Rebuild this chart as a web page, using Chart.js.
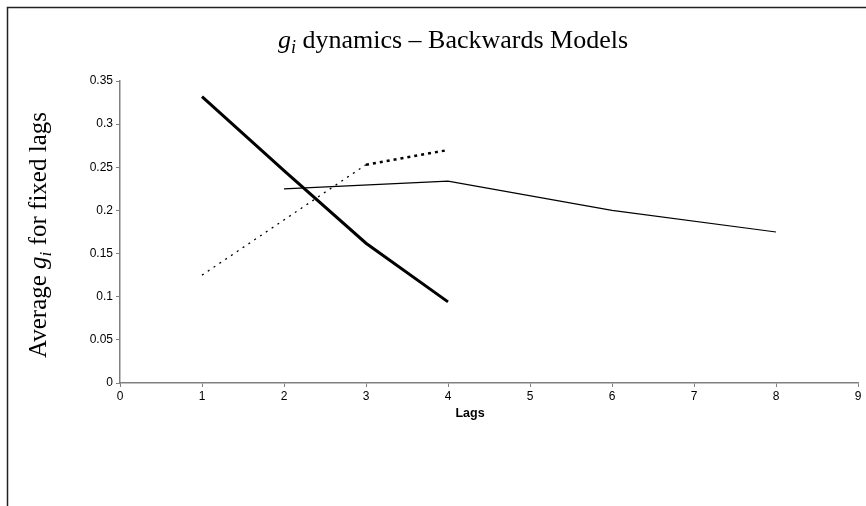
<!DOCTYPE html>
<html>
<head>
<meta charset="utf-8">
<script src="https://cdn.jsdelivr.net/npm/chart.js@4.4.0/dist/chart.umd.min.js"></script>
<style>
  html, body { margin: 0; background: #fff; }
  #wrap { width: 866px; height: 506px; }
</style>
</head>
<body>
<div id="wrap"><canvas id="chart"></canvas></div>
<script>
// lags on the x axis, average g_i per series
const xTickValues = [0, 1, 2, 3, 4, 5, 6, 7, 8, 9];
const yTickLabels = ['0', '0.05', '0.1', '0.15', '0.2', '0.25', '0.3', '0.35'];

const boldLags = [1, 2, 3, 4];
const boldValues = [0.332, 0.246, 0.162, 0.094];

const dottedLags = [1, 2, 3, 4];
const dottedValues = [0.125, 0.189, 0.253, 0.270];

const thinLags = [2, 4, 6, 8];
const thinValues = [0.225, 0.234, 0.200, 0.175];

const toPoints = (xs, ys) => xs.map((x, i) => ({ x: x, y: ys[i] }));

// draws a line of text made of runs (italic, subscript) centred on x
function drawRuns(ctx, runs, x, y, size) {
  const fontFor = r => (r.italic ? 'italic ' : '') + (r.sub ? size * 0.7 : size) + 'px "Liberation Serif", "Times New Roman", serif';
  let total = 0;
  runs.forEach(r => { ctx.font = fontFor(r); total += ctx.measureText(r.t).width; });
  let cx = x - total / 2;
  ctx.textAlign = 'left';
  ctx.textBaseline = 'alphabetic';
  runs.forEach(r => {
    ctx.font = fontFor(r);
    ctx.fillText(r.t, cx, y + (r.sub ? size * 0.2 : 0));
    cx += ctx.measureText(r.t).width;
  });
}

const textPlugin = {
  id: 'texts',
  beforeDraw(chart) {
    const ctx = chart.ctx;
    ctx.save();
    // outer frame
    ctx.strokeStyle = '#222';
    ctx.lineWidth = 1.5;
    ctx.beginPath();
    ctx.moveTo(7.5, chart.height);
    ctx.lineTo(7.5, 7.5);
    ctx.lineTo(chart.width, 7.5);
    ctx.stroke();
    ctx.restore();
  },
  afterDraw(chart) {
    const ctx = chart.ctx;
    const a = chart.chartArea;
    ctx.save();
    ctx.fillStyle = '#000';
    drawRuns(ctx, [
      { t: 'g', italic: true }, { t: 'i', italic: true, sub: true },
      { t: ' dynamics \u2013 Backwards Models' }
    ], 453, 48, 26);

    ctx.translate(46, (a.top + a.bottom) / 2 + 3);
    ctx.rotate(-Math.PI / 2);
    drawRuns(ctx, [
      { t: 'Average ' }, { t: 'g', italic: true }, { t: 'i', italic: true, sub: true },
      { t: ' for fixed lags' }
    ], 0, 0, 25);
    ctx.restore();

    ctx.save();
    ctx.fillStyle = '#000';
    ctx.font = 'bold 12.5px "Liberation Sans", Arial, sans-serif';
    ctx.textAlign = 'center';
    ctx.textBaseline = 'middle';
    ctx.fillText('Lags', 470, 414);
    ctx.restore();
  }
};

const axisColor = '#808080';
const tickFont = { family: '"Liberation Sans", Arial, sans-serif', size: 12 };

new Chart(document.getElementById('chart'), {
  type: 'line',
  data: {
    datasets: [
      {
        data: toPoints(boldLags, boldValues),
        borderColor: '#000',
        borderWidth: 3,
        pointRadius: 0,
        tension: 0
      },
      {
        data: toPoints(dottedLags, dottedValues),
        borderColor: '#000',
        borderWidth: 1.3,
        borderCapStyle: 'butt',
        pointRadius: 0,
        tension: 0,
        segment: {
          borderWidth: c => c.p1DataIndex === 3 ? 2.5 : 1.3,
          borderDash: c => c.p1DataIndex === 3 ? [3, 4] : [2, 5]
        }
      },
      {
        data: toPoints(thinLags, thinValues),
        borderColor: '#000',
        borderWidth: 1.2,
        pointRadius: 0,
        tension: 0
      }
    ]
  },
  options: {
    responsive: true,
    maintainAspectRatio: false,
    animation: false,
    layout: { padding: { left: 80, right: 8, top: 81, bottom: 83 } },
    plugins: { legend: { display: false }, tooltip: { enabled: false } },
    scales: {
      x: {
        type: 'linear',
        min: xTickValues[0],
        max: xTickValues[xTickValues.length - 1],
        afterBuildTicks: s => { s.ticks = xTickValues.map(v => ({ value: v })); },
        afterFit: s => { s.height = 40; },
        ticks: { color: '#000', font: tickFont, padding: 2, maxRotation: 0 },
        grid: { drawOnChartArea: false, drawTicks: true, tickLength: 4, color: axisColor },
        border: { color: axisColor, width: 1.5 }
      },
      y: {
        min: 0,
        max: 0.35,
        afterBuildTicks: s => { s.ticks = yTickLabels.map(v => ({ value: parseFloat(v) })); },
        afterFit: s => { s.width = 40; },
        ticks: {
          color: '#000', font: tickFont, padding: 3,
          callback: (v, i) => yTickLabels[i]
        },
        grid: { drawOnChartArea: false, drawTicks: true, tickLength: 4, color: axisColor },
        border: { color: axisColor, width: 1.5 }
      }
    }
  },
  plugins: [textPlugin]
});
</script>
</body>
</html>
